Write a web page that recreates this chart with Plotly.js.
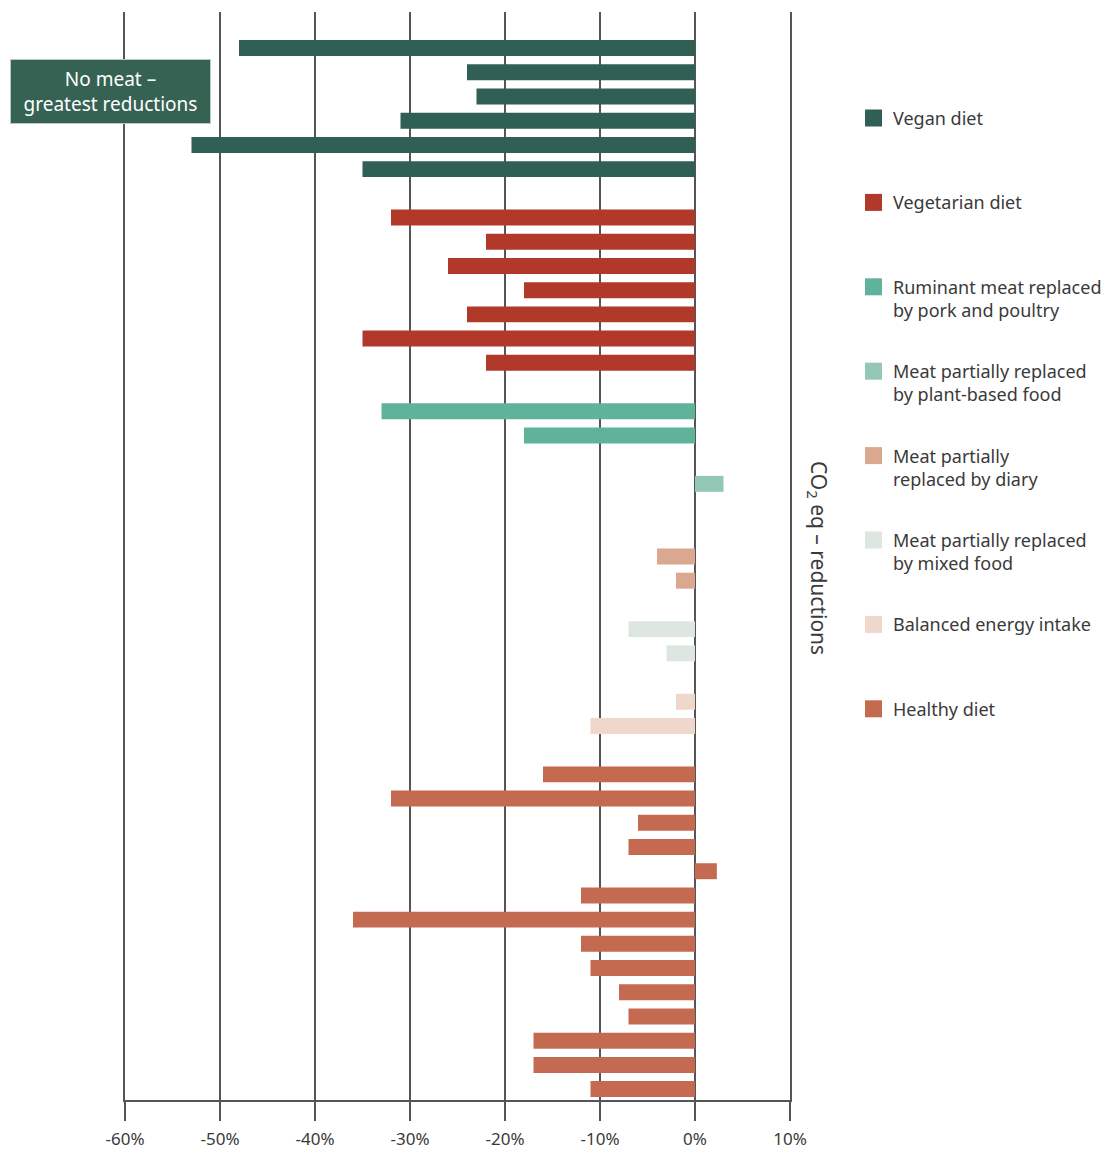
<!DOCTYPE html>
<html>
<head>
<meta charset="utf-8">
<script src="https://cdn.plot.ly/plotly-3.0.1.min.js"></script>
<style>html,body{margin:0;padding:0;background:#fff;}</style>
</head>
<body>
<div id="chart" style="width:1112px;height:1149px;"></div>
<script>
// ---- data ----
var groupNames = [
  "Vegan diet",
  "Vegetarian diet",
  "Ruminant meat replaced<br>by pork and poultry",
  "Meat partially replaced<br>by plant-based food",
  "Meat partially<br>replaced by diary",
  "Meat partially replaced<br>by mixed food",
  "Balanced energy intake",
  "Healthy diet"
];
var groupColors = ["#2f5f55", "#b1392a", "#5fb39b", "#95c7b7", "#d9a88f", "#dee7df", "#f0d7cb", "#c46a50"];

var veganValues = [-48, -24, -23, -31, -53, -35];
var vegetarianValues = [-32, -22, -26, -18, -24, -35, -22];
var ruminantValues = [-33, -18];
var plantBasedValues = [3, 0];
var diaryValues = [-4, -2];
var mixedFoodValues = [-7, -3];
var balancedEnergyValues = [-2, -11];
var healthyValues = [-16, -32, -6, -7, 2.3, -12, -36, -12, -11, -8, -7, -17, -17, -11];

var tickValues = [-60, -50, -40, -30, -20, -10, 0, 10];
var tickLabels = ["-60%", "-50%", "-40%", "-30%", "-20%", "-10%", "0%", "10%"];

var groupValues = [veganValues, vegetarianValues, ruminantValues, plantBasedValues,
                   diaryValues, mixedFoodValues, balancedEnergyValues, healthyValues];

// ---- build traces (rows laid out sequentially, one empty row between groups) ----
var traces = [];
var row = 0;
groupValues.forEach(function (vals, gi) {
  var ys = vals.map(function (_, i) { return row + i; });
  row += vals.length + 1;
  traces.push({
    type: "bar",
    orientation: "h",
    x: vals,
    y: ys,
    name: groupNames[gi],
    width: 0.66,
    marker: { color: groupColors[gi], line: { width: 0 } },
    showlegend: false,
    hoverinfo: "x"
  });
});
var lastRow = row - 2;

// ---- pixel helpers for paper coordinates ----
var W = 1112, H = 1149;
var M = { l: 125, r: 322, t: 12, b: 49 };
var pw = W - M.l - M.r, ph = H - M.t - M.b;
function px(x) { return (x - M.l) / pw; }
function py(y) { return (H - M.b - y) / ph; }

var textColor = "#3a3a3a";
var fontFam = "'Noto Sans', 'Open Sans', sans-serif";

var shapes = [];
var annotations = [];

// manual legend
var legTop = 118, legStep = 84.4, lineH = 23.4;
groupNames.forEach(function (name, i) {
  var cy = legTop + i * legStep;
  shapes.push({
    type: "rect", xref: "paper", yref: "paper",
    x0: px(865), x1: px(882), y0: py(cy - 8.5), y1: py(cy + 8.5),
    fillcolor: groupColors[i], line: { width: 0 }
  });
  var nLines = name.split("<br>").length;
  annotations.push({
    xref: "paper", yref: "paper",
    x: px(892), y: py(cy + (nLines - 1) * lineH / 2),
    xanchor: "left", yanchor: "middle", align: "left",
    text: name, showarrow: false, borderpad: 0,
    font: { family: fontFam, size: 18, color: textColor }
  });
});

// callout box
annotations.push({
  xref: "paper", yref: "paper",
  x: px(110), y: py(91), xanchor: "center", yanchor: "middle",
  text: "No meat –<br>greatest reductions", showarrow: false,
  width: 199, height: 63, borderpad: 0,
  bgcolor: "#366254", bordercolor: "#b9cbc4", borderwidth: 1,
  font: { family: fontFam, size: 19, color: "#ffffff" }
});

// vertical axis label on the right
annotations.push({
  xref: "paper", yref: "paper",
  x: px(818), y: py(558), xanchor: "center", yanchor: "middle",
  text: "CO<sub>2</sub> eq – reductions", textangle: 90, showarrow: false,
  font: { family: fontFam, size: 21, color: textColor }
});

var layout = {
  width: W, height: H,
  margin: M,
  paper_bgcolor: "#ffffff", plot_bgcolor: "#ffffff",
  barmode: "overlay",
  showlegend: false,
  font: { family: fontFam, color: textColor },
  xaxis: {
    range: [-60, 10],
    tickvals: tickValues, ticktext: tickLabels,
    showgrid: true, gridcolor: "#555555", gridwidth: 2,
    zeroline: false,
    showline: true, linecolor: "#555555", linewidth: 2,
    ticks: "outside", ticklen: 19, tickwidth: 2, tickcolor: "#555555",
    tickfont: { family: fontFam, size: 17, color: textColor },
    ticklabelstandoff: 4,
    fixedrange: true
  },
  yaxis: {
    range: [lastRow + 0.45, -1.49],
    showticklabels: false, ticks: "", showgrid: false, zeroline: false,
    showline: true, mirror: true, linecolor: "#555555", linewidth: 2,
    fixedrange: true
  },
  shapes: shapes,
  annotations: annotations
};

Plotly.newPlot("chart", traces, layout, { displayModeBar: false, staticPlot: true });
</script>
</body>
</html>
